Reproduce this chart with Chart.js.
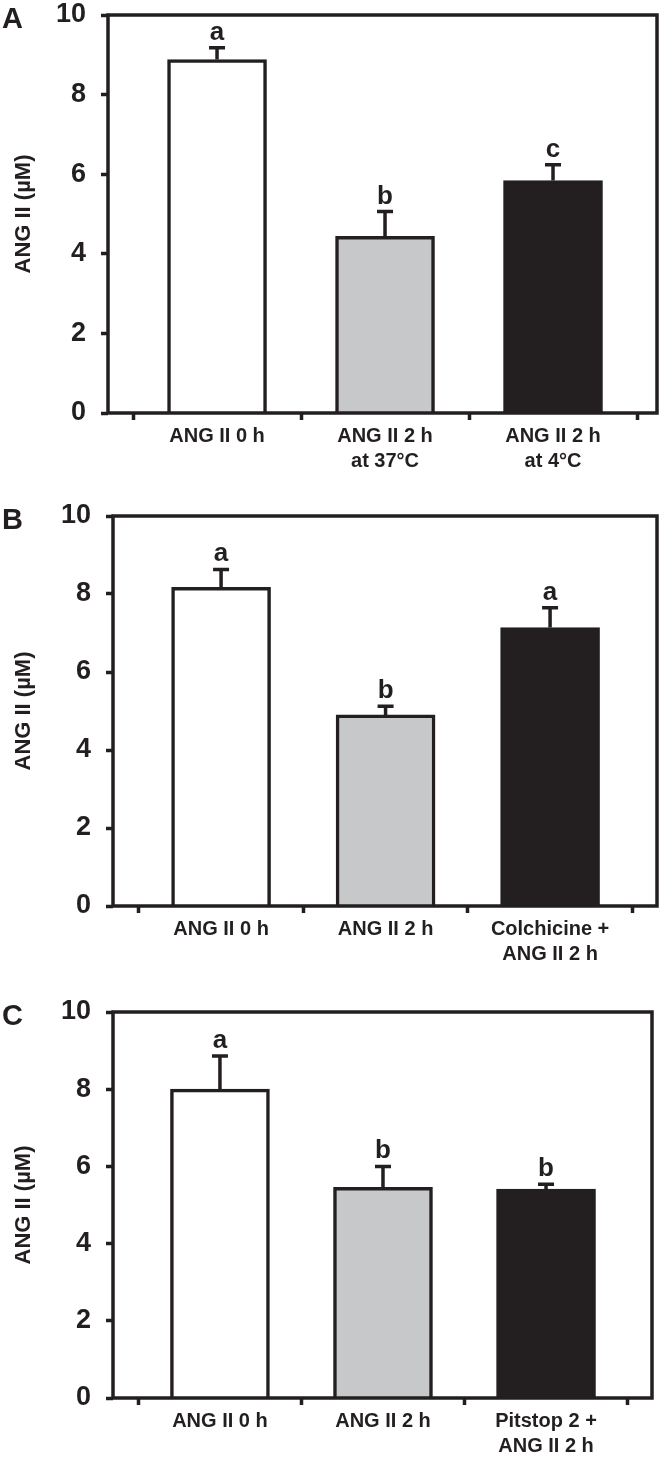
<!DOCTYPE html>
<html>
<head>
<meta charset="utf-8">
<script src="https://cdn.jsdelivr.net/npm/chart.js@4/dist/chart.umd.min.js"></script>
<style>
body{margin:0;background:#fff;}
.panel{position:absolute;left:0;width:664px;}
</style>
</head>
<body>
<div class="panel" style="top:0"><canvas id="chartA" width="664" height="500"></canvas></div>
<div class="panel" style="top:500px"><canvas id="chartB" width="664" height="496"></canvas></div>
<div class="panel" style="top:996px"><canvas id="chartC" width="664" height="462"></canvas></div>
<script>
// panel A
const labelsA = ['ANG II 0 h', ['ANG II 2 h', 'at 37°C'], ['ANG II 2 h', 'at 4°C']];
const meansA = [8.88, 4.44, 5.84];
const errA = [0.3, 0.62, 0.4];
const sigA = ['a', 'b', 'c'];

// panel B
const labelsB = ['ANG II 0 h', 'ANG II 2 h', ['Colchicine +', 'ANG II 2 h']];
const meansB = [8.17, 4.9, 7.14];
const errB = [0.46, 0.22, 0.51];
const sigB = ['a', 'b', 'a'];

// panel C
const labelsC = ['ANG II 0 h', 'ANG II 2 h', ['Pitstop 2 +', 'ANG II 2 h']];
const meansC = [8.0, 5.46, 5.41];
const errC = [0.86, 0.54, 0.13];
const sigC = ['a', 'b', 'b'];

const yTicks = [0, 2, 4, 6, 8, 10];

const dark = '#231f20';
const fills = ['#ffffff', '#c7c8ca', '#231f20'];
const font = 'Arial, "Liberation Sans", sans-serif';

const errorBars = {
    id: 'errorBars',
    afterDatasetsDraw(chart, args, opts) {
        const ctx = chart.ctx;
        const xs = chart.scales.x, ys = chart.scales.y;
        ctx.save();
        ctx.strokeStyle = dark;
        ctx.fillStyle = dark;
        ctx.lineWidth = 3.5;
        opts.means.forEach(function (m, i) {
            const px = xs.getPixelForValue(i);
            const top = ys.getPixelForValue(m);
            const cap = ys.getPixelForValue(m + opts.errs[i]);
            ctx.beginPath();
            ctx.moveTo(px, top);
            ctx.lineTo(px, cap);
            ctx.moveTo(px - 8, cap);
            ctx.lineTo(px + 8, cap);
            ctx.stroke();
            ctx.font = 'bold 26px ' + font;
            ctx.textAlign = 'center';
            ctx.textBaseline = 'alphabetic';
            ctx.fillText(opts.sig[i], px, cap - 8);
        });
        // box round the plot
        const a = chart.chartArea;
        ctx.strokeRect(a.left, a.top, a.right - a.left, a.bottom - a.top);
        ctx.font = 'bold 29px ' + font;
        ctx.textAlign = 'left';
        ctx.fillText(opts.panel, 2, a.top + 13);
        ctx.restore();
    }
};

function makePanel(id, labels, means, errs, sig, panel, box) {
    const canvas = document.getElementById(id);
    return new Chart(canvas, {
        type: 'bar',
        data: {
            datasets: [{
                data: means.map(function (m, i) { return { x: i, y: m }; }),
                backgroundColor: fills,
                borderColor: dark,
                borderWidth: 3.5,
                borderSkipped: 'bottom',
                barThickness: 99
            }]
        },
        plugins: [errorBars],
        options: {
            responsive: false,
            animation: false,
            layout: { padding: { top: box.top, right: 664 - box.right, left: 0, bottom: 0 } },
            plugins: {
                legend: { display: false },
                tooltip: { enabled: false },
                errorBars: { means: means, errs: errs, sig: sig, panel: panel }
            },
            scales: {
                x: {
                    type: 'linear',
                    offset: false,
                    min: box.xmin,
                    max: box.xmax,
                    afterBuildTicks: function (s) { s.ticks = [0, 1, 2].map(function (v) { return { value: v }; }); },
                    afterFit: function (s) {
                        s.height = canvas.height - box.bottom;
                        s.paddingLeft = 0;
                        s.paddingRight = 0;
                    },
                    border: { display: false },
                    grid: { drawOnChartArea: false, drawTicks: true, tickLength: 7, tickWidth: 3.5, tickColor: dark },
                    ticks: {
                        autoSkip: false,
                        maxRotation: 0,
                        padding: 4,
                        color: dark,
                        font: { family: font, size: 20, weight: 'bold', lineHeight: 1.25 },
                        callback: function (v) { return labels[v]; }
                    }
                },
                y: {
                    min: 0,
                    max: 10,
                    afterBuildTicks: function (s) { s.ticks = yTicks.map(function (v) { return { value: v }; }); },
                    afterFit: function (s) {
                        s.width = box.left;
                        s.paddingTop = 0;
                        s.paddingBottom = 0;
                    },
                    border: { display: false },
                    grid: { drawOnChartArea: false, drawTicks: true, tickLength: 7, tickWidth: 3.5, tickColor: dark },
                    ticks: {
                        padding: 15,
                        color: dark,
                        font: { family: font, size: 27, weight: 'bold' }
                    },
                    title: {
                        display: true,
                        text: 'ANG II (µM)',
                        color: dark,
                        padding: { top: 11, bottom: 0 },
                        font: { family: font, size: 22, weight: 'bold' }
                    }
                }
            }
        }
    });
}

makePanel('chartA', labelsA, meansA, errA, sigA, 'A', { top: 15, bottom: 413, left: 108, right: 657, xmin: -0.649, xmax: 2.619 });
makePanel('chartB', labelsB, meansB, errB, sigB, 'B', { top: 16, bottom: 406, left: 113, right: 657, xmin: -0.657, xmax: 2.65 });
makePanel('chartC', labelsC, meansC, errC, sigC, 'C', { top: 16, bottom: 402, left: 113, right: 652, xmin: -0.656, xmax: 2.65 });
</script>
</body>
</html>
